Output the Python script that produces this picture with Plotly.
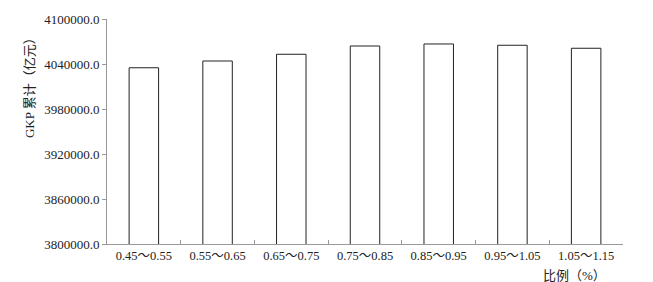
import plotly.graph_objects as go

categories = ["0.45～0.55", "0.55～0.65", "0.65～0.75", "0.75～0.85",
              "0.85～0.95", "0.95～1.05", "1.05～1.15"]
gkp_values = [4035000, 4044000, 4053000, 4064000, 4066700, 4065000, 4061000]
y_tickvals = [3800000, 3860000, 3920000, 3980000, 4040000, 4100000]

FONT = "Liberation Serif, Noto Sans CJK SC, serif"

fig = go.Figure()
fig.add_trace(go.Bar(
    x=categories, y=gkp_values, width=0.40,
    marker=dict(color="white", line=dict(color="#222222", width=1)),
))

fig.update_layout(
    width=653, height=282,
    margin=dict(l=107, r=30, t=19, b=38),
    plot_bgcolor="white", paper_bgcolor="white",
    showlegend=False,
    font=dict(family=FONT, size=12, color="#222222"),
    xaxis=dict(
        type="category", showline=True, linecolor="#999999", linewidth=1,
        ticks="inside", tickson="boundaries", ticklen=4, tickcolor="#999999",
        showgrid=False, tickfont=dict(family=FONT, size=12.5, color="#222222"),
    ),
    yaxis=dict(
        range=[3800000, 4100000], tickvals=y_tickvals, tickformat=".1f",
        showline=True, linecolor="#999999", linewidth=1,
        ticks="outside", ticklen=4, tickcolor="#999999",
        showgrid=False, zeroline=False,
        tickfont=dict(family=FONT, size=13, color="#222222"),
    ),
    annotations=[
        dict(text="GKP 累计（亿元）", xref="paper", yref="paper",
             x=-0.149, y=0.707, textangle=-90, showarrow=False,
             xanchor="center", yanchor="middle",
             font=dict(family=FONT, size=13, color="#222222")),
        dict(text="比例（%）", xref="paper", yref="paper",
             x=0.906, y=-0.14, showarrow=False,
             xanchor="center", yanchor="middle",
             font=dict(family=FONT, size=13, color="#222222")),
    ],
)

fig.write_html("out.html")
